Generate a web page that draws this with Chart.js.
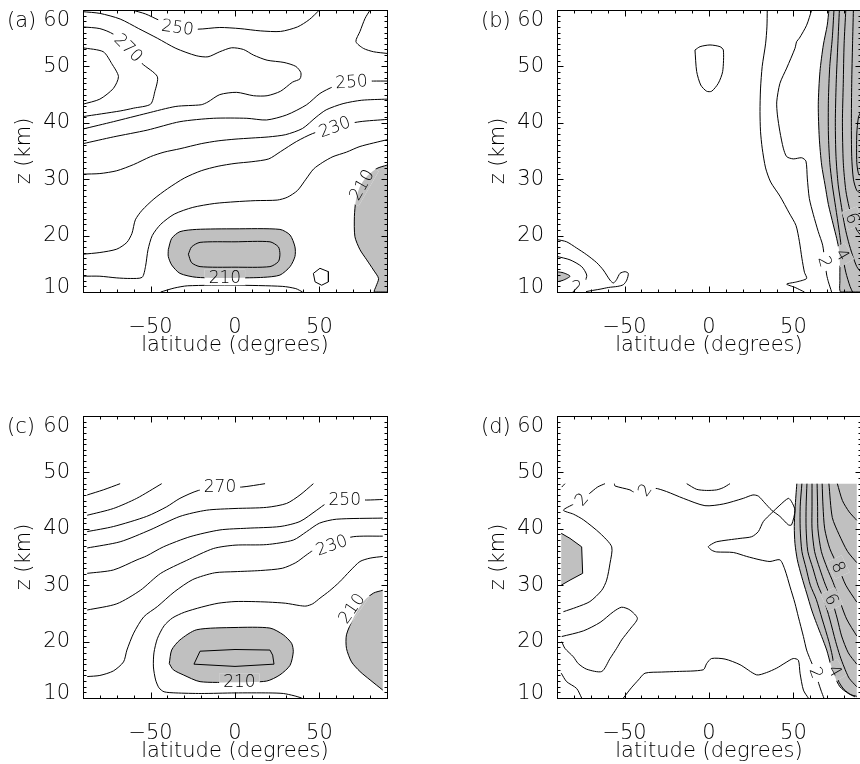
<!DOCTYPE html>
<html>
<head>
<meta charset="utf-8">
<title>zonal mean contours</title>
<script src="https://cdn.jsdelivr.net/npm/chart.js@4.4.1/dist/chart.umd.min.js"></script>
<style>
  html, body { margin: 0; padding: 0; background: #fff; overflow: hidden; }
  #wrap { position: relative; width: 860px; height: 764px; overflow: hidden; }
  #wrap canvas { position: absolute; }
</style>
</head>
<body>
<div id="wrap">
  <canvas id="pa" width="430" height="380" style="left:0px;top:0px"></canvas>
  <canvas id="pb" width="430" height="380" style="left:474px;top:0px"></canvas>
  <canvas id="pc" width="430" height="380" style="left:0px;top:406px"></canvas>
  <canvas id="pd" width="430" height="380" style="left:474px;top:406px"></canvas>
</div>
<script>
// axes
const xTicks = [-50, 0, 50];
const yTicks = [10, 20, 30, 40, 50, 60];

// ---- panel (a): temperature, contours [lat, z] ----
const aT250top = [[-61,60],[-53,59.3],[-45,58.2],[-34,56.9],[-22,56.6],[-9,56.9],[3,56.7],[15,56.3],[27,56.2],[37,57.0],[44,58.3],[50,60]];
const aT260 = [[-90,59.7],[-80,59.4],[-68,58.4],[-57,56.7],[-46,55.0],[-35,53.2],[-23,51.9],[-16,51.7],[-9,52.6],[-2,53.3],[5,53.0],[11,52.0],[19,51.1],[29,50.7],[36,50.0],[39,48.9],[38.5,47.8],[34,47.2],[27,45.6],[19,44.8],[11,44.8],[1,45.4],[-9,45.0],[-16,43.7],[-20,43.2],[-35,42.9],[-52,41.7],[-72,40.2],[-90,38.9]];
const aT270 = [[-90,57.0],[-80,56.7],[-72,55.7],[-63,53.2],[-55,50.5],[-46,48.2],[-47.5,45.5],[-50,43.3],[-60,42.6],[-68,42.1],[-90,41.1]];
const aT280 = [[-90,53.3],[-78,52.6],[-73,50.5],[-69,48.2],[-72,46.1],[-80,44.2],[-90,43.3]];
const aTne = [[80,60],[77,58.5],[74,56.2],[71.6,54.4],[76,53.2],[82,52.6],[90,52.3]];
const aT250 = [[-90,36.3],[-72,37.5],[-52,38.7],[-32.6,40.2],[-12.8,40.8],[7,40.8],[18.7,40.5],[30.6,41.4],[42.4,43.2],[50.3,45.2],[58.2,46.4],[69,47.3],[82,47.4],[90,47.4]];
const aT240 = [[-90,30.9],[-80,31],[-70,31.5],[-60,32.6],[-50,34],[-42,34.8],[-32.6,35.4],[-20,36.3],[-10,36.8],[0,37.1],[10,37.3],[20,37.5],[30,37.9],[40,39],[48,41],[54,42.3],[64,43.4],[75,44],[90,44.2]];
const aT230 = [[-90,16.7],[-80,17],[-70,17.6],[-64,18.8],[-61,20.4],[-59,22.8],[-55,24.5],[-48,26.5],[-40,28.3],[-30,30.2],[-20,31.5],[-10,32.3],[0,32.8],[10,33.1],[20,33.6],[27,34.9],[36.5,36.7],[46,38.1],[59,39.3],[74,40.2],[90,40.6]];
const aT220 = [[-90,12.8],[-80,12.8],[-70,12.5],[-62,12.4],[-55,12.6],[-53,14.5],[-51.5,17.5],[-49,20],[-44,22],[-36,23.8],[-25,25],[-12,25.7],[0,26],[12,26.2],[25,26.3],[31,26.8],[37,28],[42,30],[46.5,31.8],[52,33],[58,34],[66,34.8],[74,35.8],[90,37]];
const aT220low = [[-44,10],[-36,10.7],[-28,11.1],[0,11.2],[28,11.0],[36,10.6],[40,10]];
const aT210eq = [[-39.5,17.5],[-37.5,19.5],[-32.6,20.7],[-22.7,21.1],[0,21.2],[26.6,21.1],[32.6,20.1],[35.5,18],[35.5,16.3],[32.6,14.5],[26.6,13.0],[16.8,12.6],[0,12.5],[-22.7,12.6],[-32.6,13.3],[-37.5,14.8],[-39.5,16.3],[-39.5,17.5]];
const aT200eq = [[-27.6,16.7],[-25.7,18.0],[-20.7,18.8],[0,18.9],[20.7,18.9],[25.7,18.0],[26.6,16.7],[25.7,15.4],[20.7,14.5],[0,14.4],[-20.7,14.5],[-25.7,15.2],[-27.6,16.7]];
const aT210np = [[90,32.5],[84,31.9],[78,30.5],[74,28.7],[71.6,26.3],[70.7,23.4],[71,19.8],[74,17.5],[78,15.7],[82,13.9],[85,12.4],[83.5,11],[82.5,10],[90,10]];
const aTsmall = [[46.4,13.3],[50.3,14.2],[55.3,13.6],[55.3,11.8],[51.3,11.2],[47.4,11.8],[46.4,13.3]];
const aLabels = [[-63,53.3,'270'],[-34,56.9,'250'],[69,47.3,'250'],[59,39.3,'230'],[-6,12.6,'210'],[75,29.0,'210']];
const aAngles = [45, 8, -4, -20, 0, -60];

// ---- panel (b) ----
const bLoop = [[-8.3,52.9],[-5.3,53.5],[0.6,53.8],[6.5,53.5],[8.5,52.9],[8.1,49.1],[5.5,47],[1.6,45.6],[-1.4,45.6],[-4.9,46.7],[-7.3,49.1],[-8.3,52.9]];
const bA = [[34.5,60],[34.3,57],[33.5,54],[31.5,50],[30.5,46],[30.2,42],[30.5,38.5],[31.5,35.5],[33.5,32],[36.5,29.5],[42,27],[47.5,24],[51.5,21.8],[53.5,19],[55,16],[56.5,13.5],[57.8,12.4],[52,11.8],[46,11.4],[51,10.8],[56.5,10]];
const bB = [[60.8,60],[57.8,57.3],[53.5,55],[51.9,54.4],[50.9,53.2],[46,49.7],[42,47],[40.1,43.7],[40.5,41.4],[42,38.4],[44,35.5],[46,34],[49.9,33.6],[54.9,33.8],[57.4,33.2],[58.2,30.2],[59.4,26.6],[61.8,23.7],[64.7,20.7],[67.3,18.3],[68.6,15.4],[69.7,13],[70.7,11.8],[72.6,10]];
const bS = [[71,60],[70,57.3],[67.7,53.8],[65.7,49.1],[64.7,43.2],[65.3,37.3],[66.7,32.5],[68.7,29],[70.7,25.5],[73.6,21.9],[75.6,19.5],[77,17.4],[77.5,15],[77.5,12],[78,10],[90,10],[90,60]];
const bLa = [[74,60],[73,55],[71.5,50],[70.7,44],[70.7,38],[71.5,33],[73,29],[75,25],[77,21],[79,16.6],[81,13.5],[83.5,11],[85,10]];
const bLb = [[77.2,60],[76.3,54],[75.3,47],[74.8,40],[75.2,34],[76.5,29],[78.5,25],[80.5,21.5],[82.5,19],[85,16.5],[87.5,14.5],[90,13.5]];
const bLc = [[81,60],[80,54],[79.5,47],[79,40],[79.5,33],[81,28],[83,25],[85,23],[87.5,21],[90,20]];
const bLd = [[85.5,60],[85,54],[84.5,47],[84.3,40],[84.5,34],[85.5,30],[87.5,28],[90,27.5]];
const bLe = [[90,42],[88.5,41],[87.5,38],[87.5,33],[88.5,31],[90,30.5]];
const bSW1 = [[-90,19.3],[-84.3,18.9],[-78.4,17.8],[-72.4,16.6],[-66.5,15.2],[-62.6,13.9],[-58.6,12.1],[-56.6,11.6],[-54.7,12.2],[-52.7,13.3],[-49.7,13.6],[-47.8,13.3],[-48.7,12.1],[-50.7,11.3],[-54,11],[-59.6,10.8],[-64.5,10.5],[-70.5,10.2],[-74,10]];
const bSW2 = [[-90,16.3],[-82.3,15.7],[-75.4,14.5],[-72.4,13],[-73.4,11.8]];
const bSWs = [[-90,13.6],[-86.2,13.4],[-82.3,12.8],[-86.2,12.1],[-90,11.8]];
const bLabels = [[68.6,15.4,'2'],[79,16.6,'4'],[85,23.1,'6'],[-78.4,10.8,'2']];
const bAngles = [75, 60, 70, 0];

// ---- panel (c) ----
const c290 = [[-87.5,46.0],[-78,46.9],[-68,48]];
const c280 = [[-87.5,42.4],[-72,43.6],[-58.2,45.4],[-43.4,48]];
const c270 = [[-87.5,39.5],[-72,40.4],[-52.3,42.2],[-40.5,43.9],[-32.6,45.4],[-21.7,46.8],[-8.9,47.4],[3.9,47.4],[17.8,48]];
const c260 = [[-87.5,36.6],[-68,37.7],[-50.3,39.8],[-32.6,42.2],[-16.8,43.3],[0,43.6],[18.7,43.8],[30.6,44.5],[38.5,46],[46.4,48]];
const c250 = [[-87.5,32.1],[-72,32.7],[-58,34.5],[-52.3,35.2],[-42.4,36.8],[-26.6,38.6],[-8.9,39.8],[6.9,40.1],[26.6,40.4],[38.5,41.3],[48.4,43.3],[54.3,44.5],[65,45.2],[78,45.1],[87.5,45.2]];
const c240 = [[-87.5,25.6],[-70,26.7],[-56,29.1],[-44,32.1],[-28.6,34.4],[-12.8,36.5],[0,37.1],[18.7,37.2],[34.5,38],[42.4,39.5],[50,41],[60,41.7],[87.5,41.9]];
const c230 = [[-87.5,13.8],[-80,14],[-72,14.8],[-66,16.4],[-64,18.5],[-60,21.5],[-54,24.4],[-46,26.2],[-36,28.8],[-25,31],[-12,32.2],[0,32.4],[15,32.6],[28,33],[36,34],[42,35.3],[46.4,36.2],[57,37.5],[70,38.6],[87.5,38.7]];
const c220 = [[87.5,35.1],[80,34.8],[74,34.2],[68,32.5],[62,30.6],[56,29],[50.3,27.7],[46,26.7],[42,26.3],[38,26.4],[30,26.8],[20,27.0],[10,27.1],[0,27.1],[-10,26.8],[-20,26.1],[-30,25.2],[-37,24.2],[-42,22.8],[-46,20.5],[-48,18],[-48.3,15.5],[-47,13.2],[-45,11.8],[-42,11.1],[-35,10.9],[-20,10.8],[0,10.9],[20,10.9],[28.6,10.8],[35,10.4],[39.5,10]];
const c210eq = [[-38.9,16.1],[-37.5,18.5],[-32.6,20.3],[-22.7,22.1],[0,22.5],[20.7,22.4],[28.6,21.2],[33.5,19.7],[34.5,18.2],[32.6,15.8],[26.6,14.1],[18.7,13.0],[0,12.8],[-20.7,12.9],[-30.6,14.1],[-36.5,15.0],[-38.9,16.1]];
const c200eq = [[-20.7,18.3],[0,18.6],[20.7,18.5],[22.3,17.6],[23.1,16.0],[0,15.6],[-24.3,16.0],[-20.7,18.3]];
const c210np = [[87.5,29.1],[82,28.6],[76,27.1],[70,24.1],[66,21.2],[66,18.8],[69,16.4],[74,14.7],[80,13.2],[87.5,11.4]];
const cLabels = [[-8.9,47.4,'270'],[65,45.2,'250'],[57.2,37.1,'230'],[2.6,12.9,'210'],[69.1,25.9,'210']];
const cAngles = [0, 0, -20, 0, -55];

// ---- panel (d) ----
const dTiny = [[-87.2,47.4],[-85.3,48]];
const dD1 = [[-61.6,48],[-66,47.4],[-71,46.2],[-75.4,45.2],[-80,44.4],[-86.2,43.3],[-80.3,42.6],[-74.4,41.6],[-64.5,39.2],[-57.6,36.8],[-58.6,33.9],[-60.6,30.9],[-63.5,29.1],[-70.5,27.1],[-78.4,26.1],[-86.2,25.3]];
const dD2 = [[-56,48],[-55.7,47.6],[-46.8,46.9],[-43.8,46.4],[-37.9,46.9],[-32,47.2],[-25.1,46.6],[-15.2,45.4],[-2.4,44.1],[8.5,44.4],[20.3,45.4],[26,46],[29.2,45.8],[33,44.6],[37.1,43.3],[42,42.2],[47,40.7],[48.9,40.7],[50.9,43.3],[48.9,44.8],[47,45.4],[42,44.2],[37.1,42.8],[32.2,41.3],[29.2,39.5],[25.3,38.6],[18.4,38.3],[4.5,37.7],[0.6,37.1],[-0.4,36.8],[1.6,36.2],[4.5,35.9],[14.4,35.8],[22.3,35.1],[30.2,34.5],[36.1,34.2],[42,34.5],[45,32.7],[48,29.7],[50.9,26.8],[52.9,24.4],[55.9,20.9],[57.8,18.5],[60,16.8],[62.5,15],[64.5,13],[66.5,11.2],[68,10]];
const dArc = [[-13.2,48],[-7.3,47],[-1.4,46.8],[4.5,46.9],[8.5,47.3],[12.4,48]];
const dTongue = [[-87.2,20.9],[-74.4,21.9],[-64.5,23.4],[-56.6,25.3],[-51.7,26.1],[-46.8,25.6],[-42.4,24.1],[-46.8,22.2],[-51.7,20.3],[-54.7,18.8],[-58.6,17],[-63.5,14.7],[-72.4,15.1],[-77.4,16.1],[-80.3,17.3],[-85.3,18.8],[-87.2,20]];
const dSW = [[-87.5,14.4],[-84.3,12.9],[-78.4,11.7],[-75.4,10]];
const dShadeW = [[-87.5,39.2],[-82.3,38.3],[-75.4,36.8],[-74.8,32.1],[-82.3,30.9],[-87.5,30.0]];
const dBottom = [[-50.7,10],[-46,11.8],[-41.8,13.2],[-37.9,14.4],[-28,14.6],[-19.1,14.7],[-3.4,15],[-1.4,16.1],[1.5,17],[9.5,16.9],[18.4,15.9],[28.2,14.1],[34,14.5],[40.1,15.3],[45,16.2],[49.9,17],[52.9,16.7],[53.9,14.4],[55.9,11.4],[58.8,10]];
const dS = [[52,48],[51.5,46],[50.9,43.3],[50.5,40.4],[50.9,37.4],[52.3,34.5],[54.9,31.5],[57.8,28.6],[60.8,25.6],[63.7,23.2],[66.7,20.9],[69.7,18.5],[72,16],[74.5,13.8],[77.5,12],[82.5,10.8],[86.4,10.2]];
const dShadeEdge = [[87.5,10],[87.5,48]];
const dK1 = [[55,48],[54,44],[54,40],[55,36],[57.5,33],[60,30],[63.5,27.5],[67,24],[71,20],[73,17.5],[74.5,14.8],[77,12.8],[80,11.5],[84,10.6],[87.5,10.3]];
const dK2 = [[58,48],[57.5,44],[57.5,40],[58.5,36],[61.5,33],[64.5,30],[68,27.5],[71.5,24],[75,20],[77.5,17.5],[80,15.5],[83,13.5],[87.5,12]];
const dK3 = [[61,48],[61,44],[61,40],[62.5,36],[65.5,33],[69,30],[72.6,27.5],[76,24],[78.5,21],[82.5,18],[87.5,16]];
const dK4 = [[64,48],[64.3,44],[64.5,40],[66.5,36],[70,33],[73.5,30.5],[76.5,28],[81.5,24],[87.5,21]];
const dK5 = [[67,48],[67.5,44],[68.5,40],[71.5,36.5],[76.6,33.2],[81,30],[87.5,27]];
const dK6 = [[71,48],[73,42],[77,39],[82,36],[87.5,34]];
const dK7 = [[76,48],[79,45],[83,43],[87.5,41.5]];
const dLabels = [[-75.4,45.2,'2'],[-37.9,46.9,'2'],[63.5,14.5,'2'],[74.5,14.8,'4'],[72.6,27.5,'6'],[76.6,33.2,'8']];
const dAngles = [-50, -55, 70, 60, 65, 65];

const SHADE = '#c0c0c0';
const FAMILY = "'DejaVu Sans', 'Liberation Sans', sans-serif";
const axisFont = { family: FAMILY, size: 21, weight: '200', lineHeight: 1.2 };
const straight = new Set([aTsmall, c200eq, dShadeW]);

const toXY = arr => arr.map(p => ({ x: p[0], y: p[1] }));

// frame, inward ticks, panel letter and contour labels
const panelDecor = {
  id: 'panelDecor',
  afterDatasetsDraw(chart, args, opts) {
    const { ctx, chartArea: a } = chart;
    const xs = chart.scales.x, ys = chart.scales.y;
    const fills = chart.getSortedVisibleDatasetMetas().filter(m => chart.data.datasets[m.index].isFill);
    const base = ctx.getTransform();

    ctx.save();
    ctx.beginPath();
    ctx.rect(a.left, a.top, a.right - a.left, a.bottom - a.top);
    ctx.clip();
    ctx.font = '200 17px ' + FAMILY;
    ctx.textAlign = 'center';
    ctx.textBaseline = 'middle';
    (opts.labels || []).forEach((lb, i) => {
      const px = xs.getPixelForValue(lb[0]);
      const py = ys.getPixelForValue(lb[1]);
      const ang = (opts.angles[i] || 0) * Math.PI / 180;
      const w = ctx.measureText(lb[2]).width + 8, h = 16;
      ctx.save();
      ctx.translate(px, py);
      ctx.rotate(ang);
      ctx.beginPath();
      ctx.rect(-w / 2, -h / 2, w, h);
      ctx.clip();
      // break the line under the text but keep shading
      ctx.setTransform(base);
      ctx.fillStyle = '#fff';
      ctx.fillRect(a.left, a.top, a.right - a.left, a.bottom - a.top);
      ctx.fillStyle = SHADE;
      fills.forEach(m => {
        ctx.beginPath();
        m.dataset.path(ctx);
        ctx.closePath();
        ctx.fill();
      });
      ctx.translate(px, py);
      ctx.rotate(ang);
      ctx.fillStyle = '#000';
      ctx.fillText(lb[2], 0, 1);
      ctx.restore();
    });
    ctx.restore();

    const L = Math.round(a.left) + 0.5, R = Math.round(a.right) + 0.5;
    const T = Math.round(a.top) + 0.5, B = Math.round(a.bottom) + 0.5;
    ctx.save();
    ctx.strokeStyle = '#000';
    ctx.lineWidth = 1;
    ctx.strokeRect(L, T, R - L, B - T);
    ctx.beginPath();
    for (let v = -90; v <= 90; v += 10) {
      const px = Math.round(xs.getPixelForValue(v)) + 0.5;
      const len = v % 50 === 0 ? 6 : 3;
      ctx.moveTo(px, B); ctx.lineTo(px, B - len);
      ctx.moveTo(px, T); ctx.lineTo(px, T + len);
    }
    for (let v = 10; v <= 60; v += 1) {
      const py = Math.round(ys.getPixelForValue(v)) + 0.5;
      const len = v % 10 === 0 ? 6 : 3;
      ctx.moveTo(L, py); ctx.lineTo(L + len, py);
      ctx.moveTo(R, py); ctx.lineTo(R - len, py);
    }
    ctx.stroke();
    ctx.font = '200 21px ' + FAMILY;
    ctx.fillStyle = '#000';
    ctx.textAlign = 'left';
    ctx.textBaseline = 'middle';
    ctx.fillText(opts.letter, 7, 22);
    ctx.restore();
  }
};

function makePanel(id, letter, lines, fills, labels, angles) {
  const datasets = [];
  fills.forEach(f => datasets.push({
    data: toXY(f), isFill: true, fill: 'shape', backgroundColor: SHADE,
    borderWidth: 0, pointRadius: 0, tension: straight.has(f) ? 0 : 0.25, order: 2
  }));
  lines.forEach(l => datasets.push({
    data: toXY(l), fill: false, borderColor: '#000', borderWidth: 1,
    pointRadius: 0, tension: straight.has(l) ? 0 : 0.25, order: 1
  }));

  new Chart(document.getElementById(id), {
    type: 'line',
    data: { datasets },
    options: {
      responsive: false,
      animation: false,
      events: [],
      layout: { padding: { left: 0, top: 10, right: 43, bottom: 0 } },
      plugins: {
        legend: { display: false },
        tooltip: { enabled: false },
        panelDecor: { letter, labels, angles }
      },
      scales: {
        x: {
          type: 'linear', min: -90, max: 90,
          afterBuildTicks: s => { s.ticks = xTicks.map(v => ({ value: v })); },
          afterFit: s => { s.height = 88; s.paddingLeft = 0; s.paddingRight = 0; },
          grid: { display: false },
          border: { display: true, color: '#000', width: 1 },
          ticks: {
            color: '#000', font: axisFont, padding: 15, maxRotation: 0, autoSkip: false,
            callback: v => String(v).replace('-', '\u2212')
          },
          title: { display: true, text: 'latitude (degrees)', color: '#000', font: axisFont, padding: { top: 0, bottom: 22 } }
        },
        y: {
          type: 'linear', min: 10, max: 60,
          afterBuildTicks: s => { s.ticks = yTicks.map(v => ({ value: v })); },
          afterFit: s => { s.width = 83; s.paddingTop = 0; s.paddingBottom = 0; },
          grid: { display: false },
          border: { display: true, color: '#000', width: 1 },
          ticks: {
            color: '#000', padding: 5, autoSkip: false,
            font: c => {
              const v = c.tick ? c.tick.value : null;
              return Object.assign({}, axisFont, { lineHeight: v === 60 ? '22px' : v === 10 ? '9px' : 1.2 });
            },
            callback: v => v === 60 ? ['', '60'] : v === 10 ? ['10', ''] : String(v)
          },
          title: { display: true, text: 'z (km)', color: '#000', font: axisFont, padding: { top: 12, bottom: 0 } }
        }
      }
    },
    plugins: [panelDecor]
  });
}

makePanel('pa', '(a)',
  [aT250top, aT260, aT270, aT280, aTne, aT250, aT240, aT230, aT220, aT220low, aT210eq, aT200eq, aT210np, aTsmall],
  [aT210eq, aT210np], aLabels, aAngles);

makePanel('pb', '(b)',
  [bLoop, bA, bB, bS, bLa, bLb, bLc, bLd, bLe, bSW1, bSW2, bSWs],
  [bS, bSWs], bLabels, bAngles);

makePanel('pc', '(c)',
  [c290, c280, c270, c260, c250, c240, c230, c220, c210eq, c200eq, c210np],
  [c210eq, c210np], cLabels, cAngles);

makePanel('pd', '(d)',
  [dTiny, dD1, dD2, dArc, dTongue, dSW, dShadeW, dBottom, dS, dK1, dK2, dK3, dK4, dK5, dK6, dK7],
  [dShadeW, dS.concat(dShadeEdge)], dLabels, dAngles);
</script>
</body>
</html>
